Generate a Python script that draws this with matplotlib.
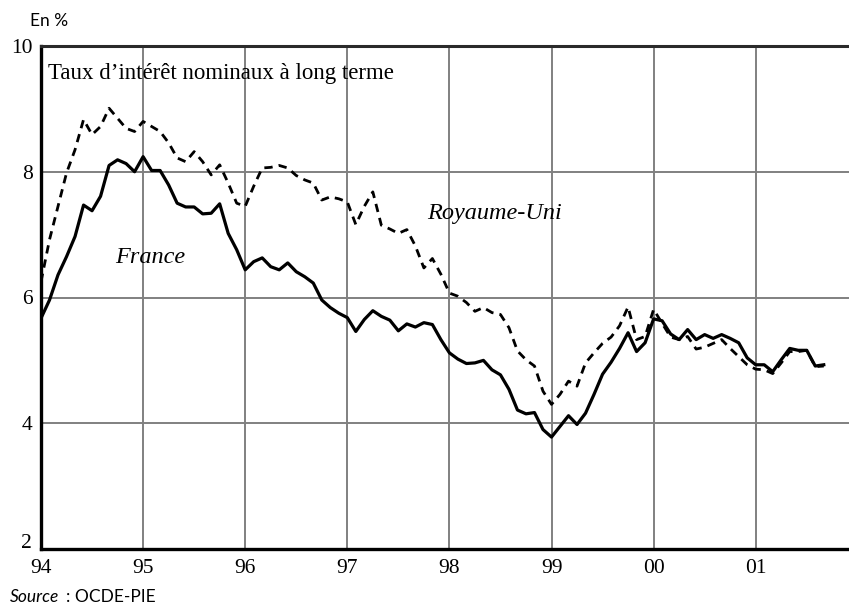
import matplotlib
matplotlib.use('Agg')
import matplotlib.pyplot as plt
import numpy as np

# Monthly long-term nominal interest rates, Jan 1994 -> Sep 2001
start_year = 94
france = [5.67, 5.96, 6.36, 6.65, 6.97, 7.47, 7.38, 7.61, 8.10, 8.19, 8.13, 8.00,
          8.24, 8.02, 8.02, 7.79, 7.50, 7.44, 7.44, 7.33, 7.34, 7.49, 7.02, 6.76,
          6.44, 6.57, 6.63, 6.49, 6.44, 6.55, 6.41, 6.33, 6.23, 5.96, 5.84, 5.75,
          5.68, 5.46, 5.65, 5.79, 5.70, 5.64, 5.47, 5.58, 5.53, 5.60, 5.57, 5.33,
          5.12, 5.02, 4.95, 4.96, 5.00, 4.85, 4.77, 4.54, 4.21, 4.15, 4.17, 3.90,
          3.78, 3.95, 4.12, 3.98, 4.16, 4.46, 4.78, 4.97, 5.19, 5.44, 5.14, 5.28,
          5.66, 5.63, 5.42, 5.33, 5.49, 5.33, 5.41, 5.35, 5.41, 5.35, 5.28, 5.04,
          4.93, 4.93, 4.82, 5.01, 5.19, 5.16, 5.16, 4.91, 4.93]
royaume_uni = [6.25, 6.92, 7.45, 7.98, 8.35, 8.83, 8.59, 8.72, 9.01, 8.85, 8.69, 8.64,
               8.80, 8.72, 8.64, 8.46, 8.22, 8.16, 8.32, 8.16, 7.95, 8.11, 7.82, 7.50,
               7.45, 7.77, 8.06, 8.07, 8.10, 8.06, 7.94, 7.87, 7.82, 7.55, 7.60, 7.57,
               7.52, 7.16, 7.45, 7.68, 7.15, 7.09, 7.02, 7.08, 6.82, 6.47, 6.62, 6.37,
               6.07, 6.02, 5.92, 5.78, 5.84, 5.76, 5.73, 5.52, 5.15, 5.01, 4.91, 4.51,
               4.30, 4.46, 4.67, 4.59, 4.96, 5.12, 5.27, 5.37, 5.55, 5.85, 5.33, 5.38,
               5.81, 5.59, 5.37, 5.33, 5.38, 5.18, 5.21, 5.27, 5.33, 5.19, 5.06, 4.93,
               4.86, 4.85, 4.79, 4.96, 5.14, 5.14, 5.16, 4.90, 4.91]
x_ticks = [94, 95, 96, 97, 98, 99, 100, 101]
x_labels = ['94', '95', '96', '97', '98', '99', '00', '01']
y_ticks = [4, 6, 8, 10]
y_labels = ['4', '6', '8', '10']
y_bottom_label = '2'

SERIF = ['Liberation Serif', 'DejaVu Serif']
SANS = ['Lato', 'DejaVu Sans']

fig = plt.figure(figsize=(8.49, 6.16), dpi=100)
W, H = 849, 616
ax = fig.add_axes([41 / W, 1 - 549 / H, 808 / W, 503 / H])

xf = start_year + np.arange(len(france)) / 12
xu = start_year + np.arange(len(royaume_uni)) / 12
ax.plot(xu, royaume_uni, color='black', lw=2.0, dashes=(3, 2.2), zorder=3)
ax.plot(xf, france, color='black', lw=2.3, zorder=4)

ax.set_xlim(94, 94 + 808 / 102.1)
ax.set_ylim(2, 10)
ax.set_xticks(x_ticks)
ax.set_xticklabels(x_labels)
ax.set_yticks(y_ticks)
ax.set_yticklabels(y_labels)
ax.grid(True, color='#808080', lw=1.4, zorder=1)
ax.set_axisbelow(True)
ax.tick_params(length=0, labelsize=15.5)
ax.tick_params(axis='x', pad=7)
ax.tick_params(axis='y', pad=6)
for lab in ax.get_xticklabels() + ax.get_yticklabels():
    lab.set_family(SERIF)

# bottom y label "2", shifted up-left as in the original
ax.annotate(y_bottom_label, xy=(94, 2), xytext=(-7, 4), textcoords='offset points',
            ha='right', va='center', family=SERIF, fontsize=15.5)

for s in ['left', 'bottom']:
    ax.spines[s].set_linewidth(2.4)
    ax.spines[s].set_color('black')
ax.spines['top'].set_linewidth(2.2)
ax.spines['top'].set_color('#2a2a2a')
ax.spines['right'].set_visible(False)

ax.text(94.07, 9.57, "Taux d\u2019intérêt nominaux à long terme", family=SERIF,
        fontsize=16.5, ha='left', va='center')
ax.text(95.07, 6.64, "France", family=SERIF, style='italic', fontsize=17.5,
        ha='center', va='center')
ax.text(98.44, 7.34, "Royaume-Uni", family=SERIF, style='italic', fontsize=17.5,
        ha='center', va='center')

fig.text(30 / W, 1 - 21 / H, "En %", family=SANS, fontsize=12.5, ha='left', va='center')
fig.text(10 / W, 1 - 597 / H, "Source", family=SANS, style='italic', fontsize=12.5,
         ha='left', va='center')
fig.text(66 / W, 1 - 597 / H, ": OCDE-PIE", family=SANS, fontsize=12.5,
         ha='left', va='center')

fig.savefig('out.png', dpi=100)
